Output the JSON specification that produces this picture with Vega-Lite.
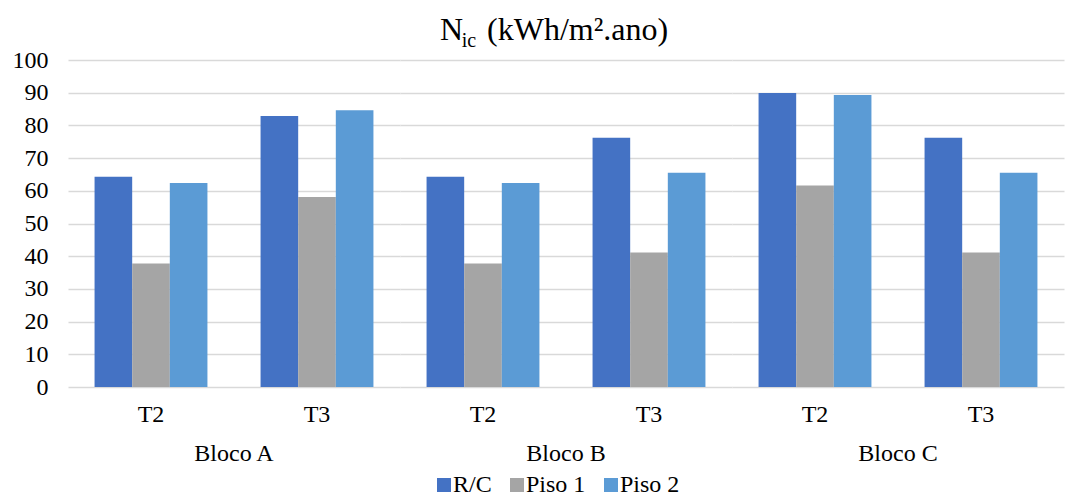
{
  "$schema": "https://vega.github.io/schema/vega-lite/v6.json",
  "padding": {"left": 12, "top": 14, "right": 5, "bottom": 0},
  "title": {
    "text": "N\u00a0\u00a0\u00a0(kWh/m².ano)",
    "subtitle": "ic\u00a0\u00a0\u00a0\u00a0\u00a0\u00a0\u00a0\u00a0\u00a0\u00a0\u00a0\u00a0\u00a0\u00a0\u00a0\u00a0\u00a0\u00a0\u00a0\u00a0\u00a0\u00a0\u00a0\u00a0\u00a0\u00a0\u00a0\u00a0\u00a0\u00a0\u00a0\u00a0\u00a0\u00a0\u200b",
    "anchor": "middle",
    "dx": 16,
    "font": "Times New Roman",
    "fontSize": 32,
    "fontWeight": "normal",
    "color": "#000000",
    "subtitleFont": "Times New Roman",
    "subtitleFontSize": 20,
    "subtitleColor": "#000000",
    "subtitlePadding": -16,
    "offset": -4
  },
  "data": {
    "values": [
      {"bloco": "Bloco A", "tipo": "T2", "serie": "R/C", "valor": 64.3},
      {"bloco": "Bloco A", "tipo": "T2", "serie": "Piso 1", "valor": 37.8},
      {"bloco": "Bloco A", "tipo": "T2", "serie": "Piso 2", "valor": 62.4},
      {"bloco": "Bloco A", "tipo": "T3", "serie": "R/C", "valor": 82.9},
      {"bloco": "Bloco A", "tipo": "T3", "serie": "Piso 1", "valor": 58.1},
      {"bloco": "Bloco A", "tipo": "T3", "serie": "Piso 2", "valor": 84.6},
      {"bloco": "Bloco B", "tipo": "T2", "serie": "R/C", "valor": 64.3},
      {"bloco": "Bloco B", "tipo": "T2", "serie": "Piso 1", "valor": 37.8},
      {"bloco": "Bloco B", "tipo": "T2", "serie": "Piso 2", "valor": 62.4},
      {"bloco": "Bloco B", "tipo": "T3", "serie": "R/C", "valor": 76.2},
      {"bloco": "Bloco B", "tipo": "T3", "serie": "Piso 1", "valor": 41.1},
      {"bloco": "Bloco B", "tipo": "T3", "serie": "Piso 2", "valor": 65.5},
      {"bloco": "Bloco C", "tipo": "T2", "serie": "R/C", "valor": 89.9},
      {"bloco": "Bloco C", "tipo": "T2", "serie": "Piso 1", "valor": 61.6},
      {"bloco": "Bloco C", "tipo": "T2", "serie": "Piso 2", "valor": 89.3},
      {"bloco": "Bloco C", "tipo": "T3", "serie": "R/C", "valor": 76.2},
      {"bloco": "Bloco C", "tipo": "T3", "serie": "Piso 1", "valor": 41.1},
      {"bloco": "Bloco C", "tipo": "T3", "serie": "Piso 2", "valor": 65.5}
    ]
  },
  "facet": {
    "column": {
      "field": "bloco",
      "type": "nominal",
      "header": {
        "title": null,
        "labelOrient": "bottom",
        "labelFont": "Times New Roman",
        "labelFontSize": 24,
        "labelColor": "#000000",
        "labelPadding": 16
      }
    }
  },
  "spacing": 0,
  "spec": {
    "width": 332,
    "height": 327,
    "mark": {"type": "bar"},
    "encoding": {
      "x": {
        "field": "tipo",
        "type": "nominal",
        "scale": {"paddingInner": 0.32, "paddingOuter": 0.16},
        "axis": {
          "title": null,
          "labelAngle": 0,
          "domain": false,
          "ticks": false,
          "tickSize": 0,
          "labelPadding": 15
        }
      },
      "xOffset": {
        "field": "serie",
        "type": "nominal",
        "sort": ["R/C", "Piso 1", "Piso 2"],
        "scale": {"paddingInner": 0, "paddingOuter": 0}
      },
      "y": {
        "field": "valor",
        "type": "quantitative",
        "scale": {"domain": [0, 100], "nice": false},
        "axis": {
          "title": null,
          "values": [0, 10, 20, 30, 40, 50, 60, 70, 80, 90, 100],
          "domain": false,
          "ticks": false,
          "tickSize": 0,
          "labelPadding": 20,
          "labelFont": "Times New Roman",
          "grid": true
        }
      },
      "color": {
        "field": "serie",
        "type": "nominal",
        "sort": ["R/C", "Piso 1", "Piso 2"],
        "scale": {"domain": ["R/C", "Piso 1", "Piso 2"], "range": ["#4472C4", "#A5A5A5", "#5B9BD5"]},
        "legend": {
          "title": null,
          "orient": "none",
          "legendX": 364,
          "legendY": 413,
          "direction": "horizontal",
          "symbolType": "square",
          "symbolSize": 196,
          "symbolStrokeWidth": 0,
          "labelFont": "Times New Roman",
          "labelFontSize": 24,
          "labelColor": "#000000",
          "labelOffset": -3,
          "columnPadding": 13,
          "padding": 0
        }
      }
    }
  },
  "config": {
    "font": "Times New Roman",
    "view": {"stroke": null},
    "axis": {
      "labelFont": "Times New Roman",
      "labelFontSize": 24,
      "labelColor": "#000000",
      "gridColor": "#D9D9D9",
      "gridWidth": 1.5
    }
  }
}
